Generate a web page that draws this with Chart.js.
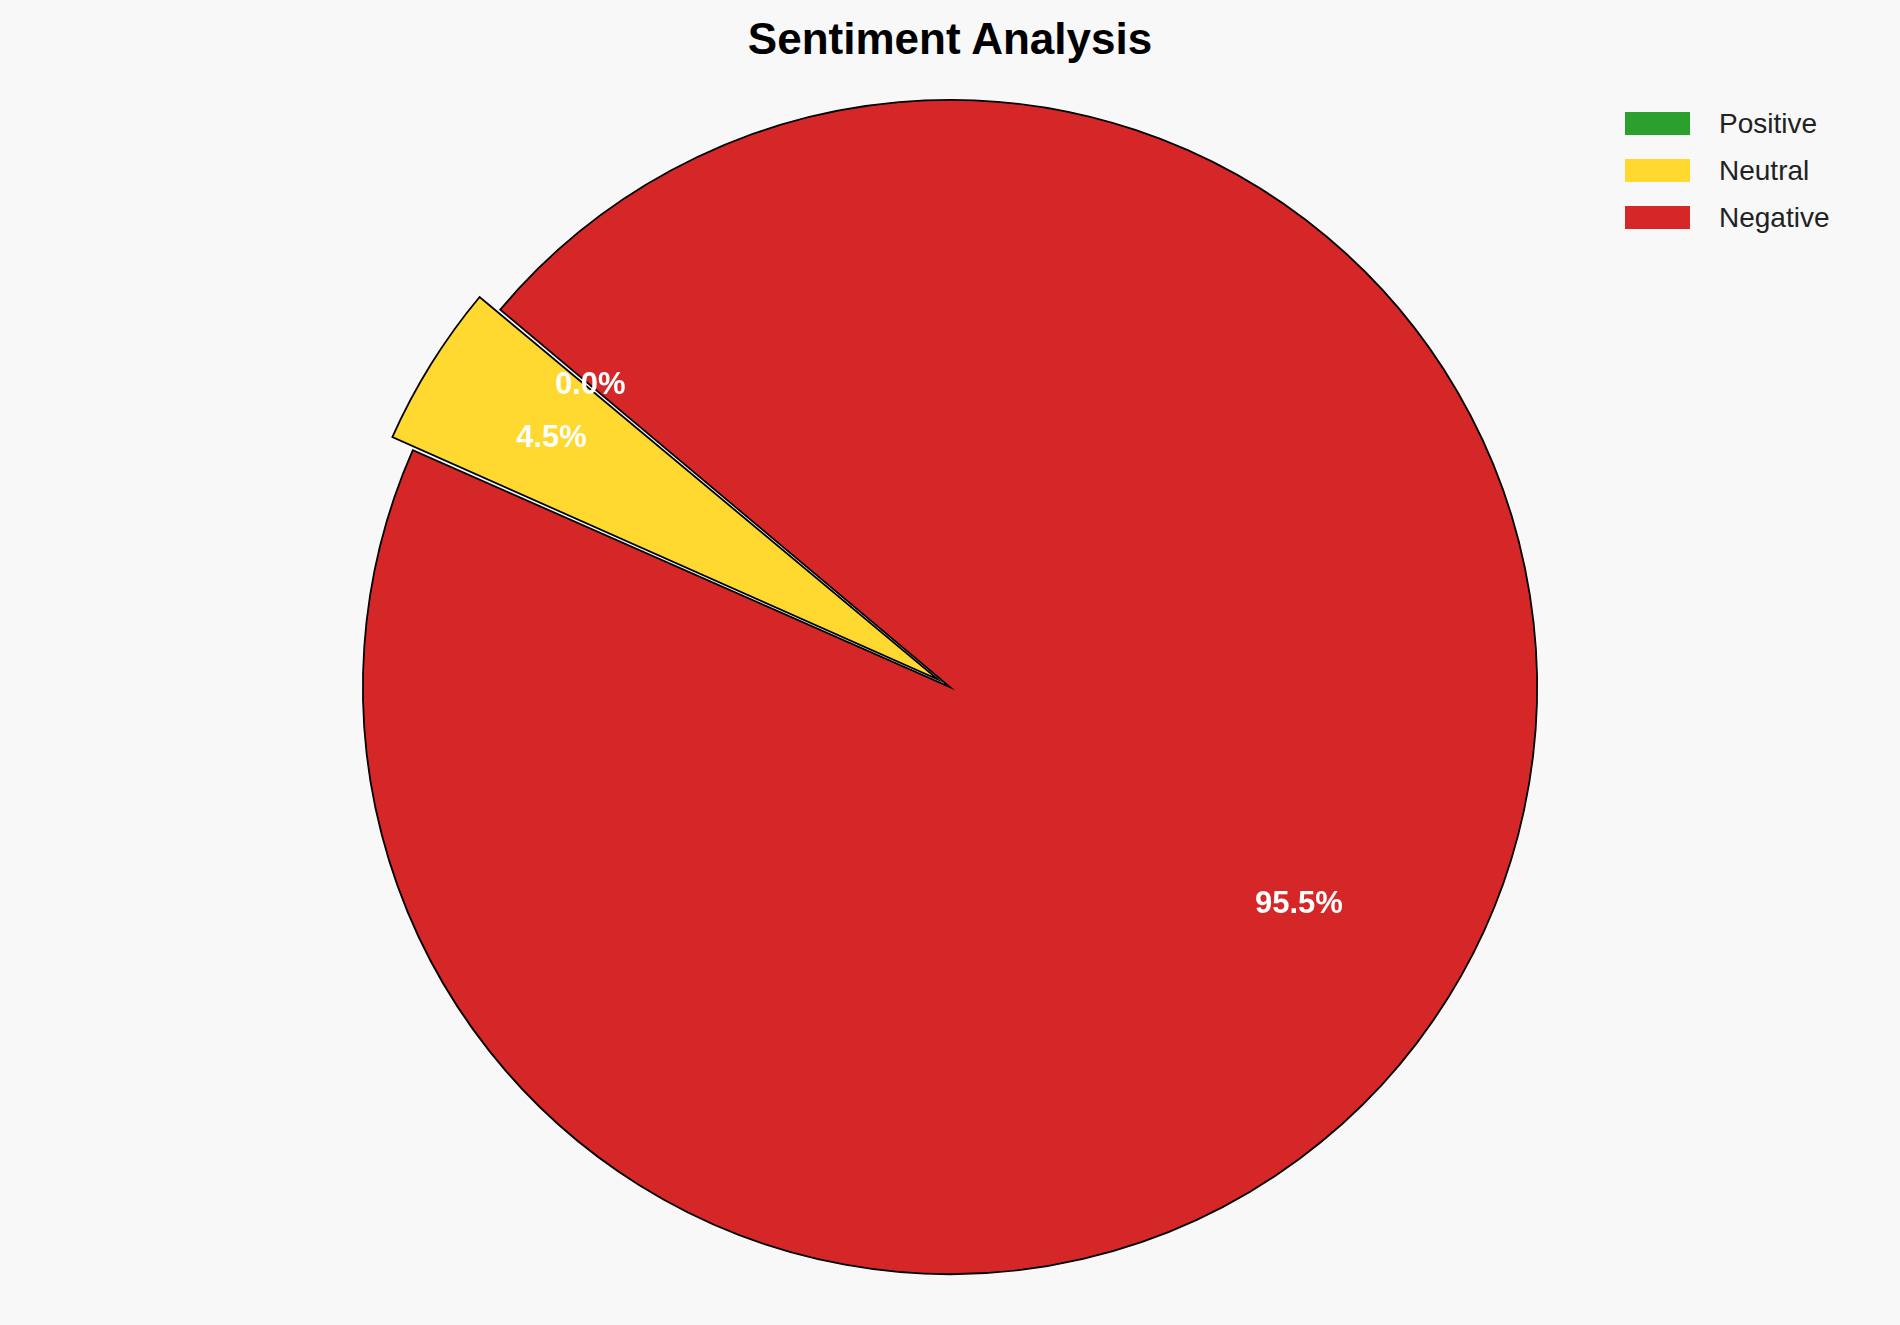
<!DOCTYPE html>
<html>
<head>
<meta charset="utf-8">
<script src="https://cdn.jsdelivr.net/npm/chart.js@4"></script>
<style>
  html,body{margin:0;padding:0;background:#f8f8f8;width:1900px;height:1325px;overflow:hidden;font-family:"Liberation Sans",Arial,sans-serif;}
  #title{position:absolute;left:0;width:1900px;top:14px;text-align:center;font-weight:bold;font-size:44px;color:#000;}
  #wrap{position:absolute;left:334px;top:71px;width:1232px;height:1232px;}
  #legend{position:absolute;left:1625px;top:100px;font-size:28px;color:#222;}
  .row{display:flex;align-items:center;height:47px;}
  .box{width:65px;height:23px;margin-right:29px;}
</style>
</head>
<body>
<div id="title">Sentiment Analysis</div>
<div id="wrap"><canvas id="pie"></canvas></div>
<div id="legend"></div>
<script>
// legend order
const categories = ['Positive', 'Neutral', 'Negative'];
const colors = ['#2ca02c', '#ffd92f', '#d62728'];
const percents = [0.0, 4.5, 95.5];
const explode = [0.1, 0.1, 0];

// draw order (clockwise in Chart.js): Neutral, Positive, Negative
const drawOrder = [1, 0, 2];

const legend = document.getElementById('legend');
categories.forEach((c, i) => {
  legend.innerHTML += `<div class="row"><div class="box" style="background:${colors[i]}"></div>${c}</div>`;
});

const pctLabels = {
  id: 'pctLabels',
  afterDatasetsDraw(chart){
    const ctx = chart.ctx;
    const meta = chart.getDatasetMeta(0);
    ctx.save();
    ctx.fillStyle = '#fff';
    ctx.font = 'bold 31px "Liberation Sans", Arial, sans-serif';
    ctx.textAlign = 'center';
    ctx.textBaseline = 'middle';
    meta.data.forEach((arc, j) => {
      const p = arc.getProps(['x','y','startAngle','endAngle','outerRadius']);
      const mid = (p.startAngle + p.endAngle) / 2;
      const off = explode[drawOrder[j]] * p.outerRadius;
      const d = p.outerRadius * 0.7 + off;
      ctx.fillText(percents[drawOrder[j]].toFixed(1) + '%', p.x + Math.cos(mid) * d, p.y + Math.sin(mid) * d);
    });
    ctx.restore();
  }
};

new Chart(document.getElementById('pie'), {
  type: 'pie',
  data: {
    labels: drawOrder.map(i => categories[i]),
    datasets: [{
      data: drawOrder.map(i => percents[i]),
      backgroundColor: drawOrder.map(i => colors[i]),
      borderColor: '#000',
      borderWidth: 1.8,
      borderJoinStyle: 'miter',
      offset: drawOrder.map(i => explode[i] * 560)
    }]
  },
  options: {
    responsive: true,
    maintainAspectRatio: false,
    animation: false,
    rotation: -66.2,
    layout: { padding: 0 },
    plugins: { legend: { display: false }, tooltip: { enabled: false } }
  },
  plugins: [pctLabels]
});
</script>
</body>
</html>
